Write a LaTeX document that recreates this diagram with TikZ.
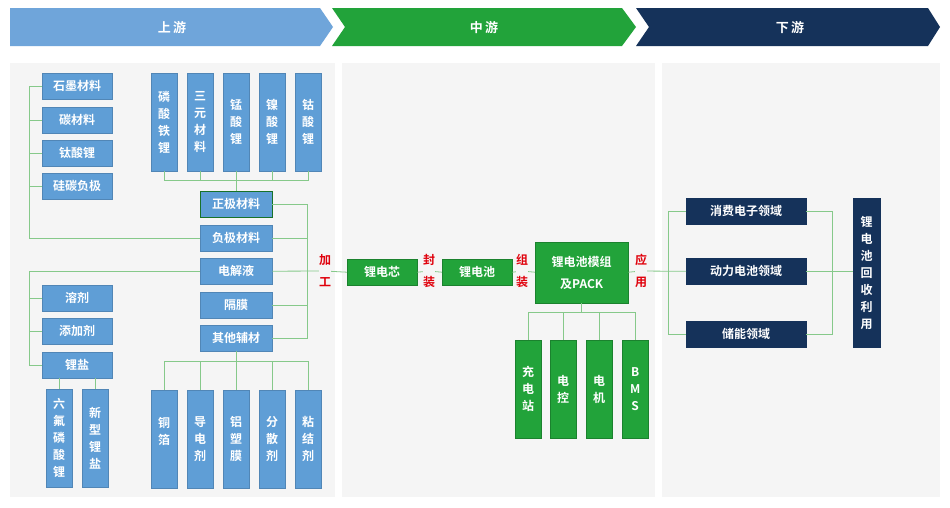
\documentclass[tikz,border=0pt]{standalone}
\usepackage{fontspec}
\setmainfont{Noto Sans CJK SC}[BoldFont={* Bold}]
\definecolor{upblue}{HTML}{6FA5DA}
\definecolor{boxblue}{HTML}{5F9ED6}
\definecolor{midgreen}{HTML}{22A33A}
\definecolor{navy}{HTML}{15325A}
\definecolor{linegreen}{HTML}{86C98A}
\definecolor{panel}{HTML}{F5F5F5}
\definecolor{redtxt}{HTML}{E0000B}
\begin{document}
\begin{tikzpicture}
        [x=1pt, y=-1pt,
        hbox/.style={fill=boxblue, draw=boxblue!85!black, thin, text=white, font=\bfseries\fontsize{12}{14}\selectfont, inner sep=0pt, anchor=north west},
        vbox/.style={hbox, align=center, font=\bfseries\fontsize{12}{17}\selectfont},
        gbox/.style={hbox, fill=midgreen, draw=midgreen!80!black},
        gvbox/.style={vbox, fill=midgreen, draw=midgreen!80!black},
        nbox/.style={hbox, fill=navy, draw=navy},
        link/.style={linegreen, thick},
        step label/.style={text=redtxt, font=\bfseries\fontsize{12}{22}\selectfont, align=center, inner sep=0pt},
        head/.style={text=white, font=\bfseries\fontsize{13}{15}\selectfont}]

        \useasboundingbox[fill=white] (0,0) rectangle (950,507);

        % header chevrons
        \fill[upblue] (10,8) -- (320,8) -- (333,27) -- (320,46) -- (10,46) -- cycle;
        \fill[midgreen] (332,8) -- (622,8) -- (636,27) -- (622,46) -- (332,46) -- (345,27) -- cycle;
        \fill[navy] (636,8) -- (928,8) -- (940,27) -- (928,46) -- (636,46) -- (649,27) -- cycle;
        \node[head] (hup) at (172,27) {上\,游};
        \node[head] (hmid) at (484,27) {中\,游};
        \node[head] (hdown) at (790,27) {下\,游};

        % panels
        \fill[panel] (10,63) rectangle (335,497);
        \fill[panel] (342,63) rectangle (655,497);
        \fill[panel] (662,63) rectangle (940,497);

        % anode materials
        \node[hbox, minimum width=70pt, minimum height=26pt] (graphite) at (42,73) {石墨材料};
        \node[hbox, minimum width=70pt, minimum height=26pt] (carbon) at (42,107) {碳材料};
        \node[hbox, minimum width=70pt, minimum height=26pt] (lto) at (42,140) {钛酸锂};
        \node[hbox, minimum width=70pt, minimum height=26pt] (sic) at (42,173) {硅碳负极};

        % cathode materials
        \foreach \name/\x/\txt in {lfp/151/磷\\酸\\铁\\锂, ncm/187/三\\元\\材\\料, lmo/223/锰\\酸\\锂, lno/259/镍\\酸\\锂, lco/295/钴\\酸\\锂}
            \node[vbox, minimum width=26pt, minimum height=98pt] (\name) at (\x,73) {\txt};

        % main materials
        \node[hbox, minimum width=72pt, minimum height=26pt, draw=midgreen!70!black] (cathode) at (200,191) {正极材料};
        \node[hbox, minimum width=72pt, minimum height=26pt] (anode) at (200,225) {负极材料};
        \node[hbox, minimum width=72pt, minimum height=26pt] (electrolyte) at (200,258) {电解液};
        \node[hbox, minimum width=72pt, minimum height=26pt] (separator) at (200,292) {隔膜};
        \node[hbox, minimum width=72pt, minimum height=26pt] (others) at (200,325) {其他辅材};

        % electrolyte parts
        \node[hbox, minimum width=70pt, minimum height=26pt] (solvent) at (42,285) {溶剂};
        \node[hbox, minimum width=70pt, minimum height=26pt] (additive) at (42,318) {添加剂};
        \node[hbox, minimum width=70pt, minimum height=26pt] (salt) at (42,352) {锂盐};
        \node[vbox, minimum width=26pt, minimum height=98pt] (lipf) at (46,389) {六\\氟\\磷\\酸\\锂};
        \node[vbox, minimum width=26pt, minimum height=98pt] (newsalt) at (82,389) {新\\型\\锂\\盐};

        % auxiliary materials
        \foreach \name/\x/\txt in {foil/151/铜\\箔\\/\\铝\\箔, conductive/187/导\\电\\剂, pouch/223/铝\\塑\\膜, dispersant/259/分\\散\\剂, binder/295/粘\\结\\剂}
            \node[vbox, minimum width=26pt, minimum height=98pt] (\name) at (\x,390) {\txt};

        % midstream
        \node[gbox, minimum width=70pt, minimum height=26pt] (cell) at (347,259) {锂电芯};
        \node[gbox, minimum width=70pt, minimum height=26pt] (battery) at (442,259) {锂电池};
        \node[gbox, minimum width=93pt, minimum height=61pt, align=center, font=\bfseries\fontsize{12}{22}\selectfont] (pack) at (535,242) {锂电池模组\\及PACK};
        \foreach \name/\x/\txt in {station/515/充\\电\\站, ectrl/550/电\\控, motor/586/电\\机, bms/622/B\\M\\S}
            \node[gvbox, minimum width=26pt, minimum height=98pt] (\name) at (\x,340) {\txt};

        \node[step label] (lb1) at (325,271) {加\\工};
        \node[step label] (lb2) at (429,271) {封\\装};
        \node[step label] (lb3) at (522,271) {组\\装};
        \node[step label] (lb4) at (641,271) {应\\用};

        % downstream
        \node[nbox, minimum width=120pt, minimum height=26pt] (consumer) at (686,198) {消费电子领域};
        \node[nbox, minimum width=120pt, minimum height=26pt] (power) at (686,258) {动力电池领域};
        \node[nbox, minimum width=120pt, minimum height=26pt] (storage) at (686,321) {储能领域};
        \node[nbox, minimum width=27pt, minimum height=149pt, align=center, font=\bfseries\fontsize{12}{17}\selectfont] (recycle) at (853,198) {锂\\电\\池\\回\\收\\利\\用};

        % buses
        \coordinate (cbus) at (0,180);
        \coordinate (abus) at (0,361);
        \coordinate (lx) at (29,0);
        \coordinate (rx) at (307,0);
        \coordinate (sbus) at (0,312);

        % links: cathode
        \draw[link] (lfp.south) -- (lfp.south |- cbus) -- (lco.south |- cbus) -- (lco.south);
        \foreach \n in {ncm, lmo, lno}
            \draw[link] (\n.south) -- (\n.south |- cbus);
        \draw[link] (lmo.south |- cbus) -- (cathode.north);
        % links: anode
        \draw[link] (graphite.west -| lx) -- (anode.west -| lx) -- (anode.west);
        \foreach \n in {graphite, carbon, lto, sic}
            \draw[link] (\n.west -| lx) -- (\n.west);
        % links: electrolyte
        \draw[link] (electrolyte.west) -- (electrolyte.west -| lx) -- (salt.west -| lx) -- (salt.west);
        \foreach \n in {solvent, additive}
            \draw[link] (\n.west -| lx) -- (\n.west);
        \draw[link] (salt.south -| lipf) -- (lipf.north);
        \draw[link] (salt.south -| newsalt) -- (newsalt.north);
        % links: auxiliary
        \draw[link] (others.south) -- (others.south |- abus);
        \draw[link] (foil.north) -- (foil.north |- abus) -- (binder.north |- abus) -- (binder.north);
        \foreach \n in {conductive, pouch, dispersant}
            \draw[link] (\n.north) -- (\n.north |- abus);
        % links: to right bus
        \draw[link] (cathode.east) -- (cathode.east -| rx) -- (others.east -| rx) -- (others.east);
        \foreach \n in {anode, separator}
            \draw[link] (\n.east) -- (\n.east -| rx);
        \draw[link] (electrolyte.east) -- (lb1) -- (cell.west);
        % links: midstream
        \draw[link] (cell.east) -- (lb2) -- (battery.west);
        \draw[link] (battery.east) -- (lb3) -- (pack.west |- battery.east);
        \draw[link] (pack.south) -- (pack.south |- sbus);
        \draw[link] (station.north) -- (station.north |- sbus) -- (bms.north |- sbus) -- (bms.north);
        \foreach \n in {ectrl, motor}
            \draw[link] (\n.north) -- (\n.north |- sbus);
        % links: downstream
        \coordinate (dl) at (668,0);
        \coordinate (dr) at (832,0);
        \draw[link] (pack.east |- battery.east) -- (lb4) -- (power.west -| dl) -- (power.west);
        \draw[link] (consumer.west) -- (consumer.west -| dl) -- (storage.west -| dl) -- (storage.west);
        \draw[link] (consumer.east) -- (consumer.east -| dr) -- (storage.east -| dr) -- (storage.east);
        \draw[link] (power.east) -- (power.east -| dr) -- (recycle.west |- power.east);
        \draw[link] (lb1.north) ++(0,-1pt);
\end{tikzpicture}
\end{document}
